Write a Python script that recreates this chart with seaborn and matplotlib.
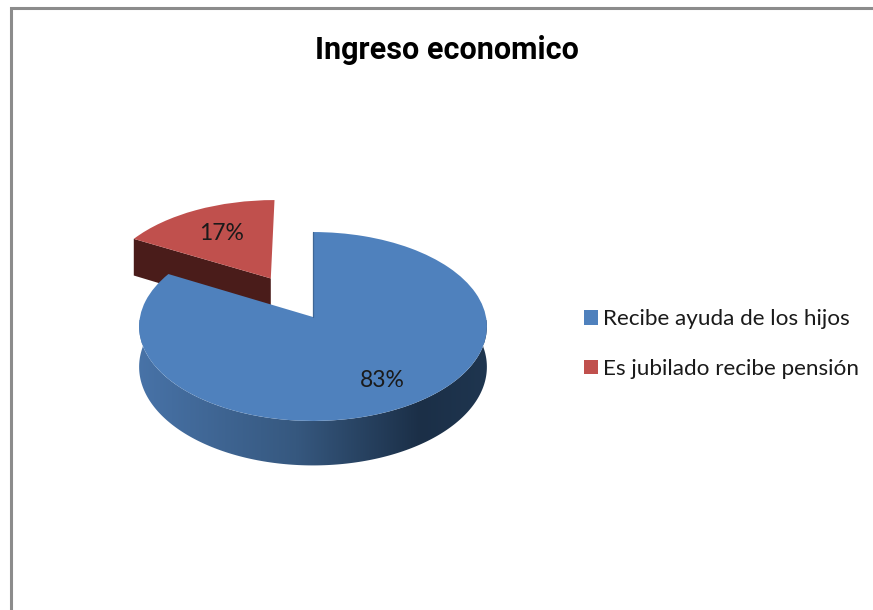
# Grafico de torta 3D: ingreso economico
import numpy as np
import matplotlib
matplotlib.use('Agg')
import matplotlib.pyplot as plt
import seaborn as sns
from matplotlib.colors import LinearSegmentedColormap
from matplotlib.patches import Polygon
from matplotlib.transforms import Transform

# --- Datos ---
categorias = ['Recibe ayuda de los hijos', 'Es jubilado recibe pensión']
valores = [83, 17]
separacion = [0, 0.5]
titulo = 'Ingreso economico'

# --- Colores ---
colores = ['#4f81bd', '#c0504d']
color_corte = '#4a1c1a'
color_borde = '#8c8c8c'

# --- Geometria de la perspectiva (pixeles) ---
CX, CY = 313, 317
RX, RY = 173, 93.5
K = 0.1005
GROSOR = 40


class Perspectiva(Transform):
    # pasa del circulo unitario de la torta a pixeles de la figura
    input_dims = 2
    output_dims = 2

    def __init__(self, z=0):
        super().__init__()
        self.z = z

    def transform_non_affine(self, values):
        xy = np.asarray(values, dtype=float)
        s = 1 / (1 + K * xy[:, 1])
        return np.column_stack([CX + RX * xy[:, 0] * s,
                                CY + (self.z * GROSOR - RY * xy[:, 1]) * s])


sns.set_theme(style='white')
plt.rcParams['font.family'] = ['Lato', 'DejaVu Sans']

fig = plt.figure(figsize=(8.73, 6.10), dpi=100)
ax = fig.add_axes([0, 0, 1, 1])

wedges, _, autotexts = ax.pie(valores, explode=separacion, colors=sns.color_palette(colores),
                              startangle=90, counterclock=False, autopct='%1.0f%%',
                              pctdistance=0.74, wedgeprops={'linewidth': 0},
                              textprops={'fontsize': 16.5, 'color': '#1a1a1a'})
ax.set_aspect('auto')

arriba = Perspectiva(0)
abajo = Perspectiva(1)
azul, rojo = wedges
centro = np.array(rojo.center)

# La etiqueta roja va mas cerca del vertice
autotexts[1].set_position(centro + (np.array(autotexts[1].get_position()) - centro) * 0.86)

# Cara superior de cada porcion
for w, t in zip(wedges, autotexts):
    w.set_transform(arriba + ax.transData)
    w.set_zorder(5)
    t.set_transform(arriba + ax.transData)
    t.set_zorder(6)

# Lado curvo de la porcion azul, con degradado
th = np.radians(np.linspace(-186, 6, 200))
arco = np.column_stack([np.cos(th), np.sin(th)])
lado = np.vstack([arriba.transform(arco), abajo.transform(arco)[::-1]])
clip = Polygon(lado, transform=ax.transData)
cmap = LinearSegmentedColormap.from_list('lado', [(0, '#4873a8'), (0.45, '#36587f'),
                                                  (0.8, '#1b2f47'), (1, '#1f3650')])
im = ax.imshow(np.linspace(0, 1, 256)[None, :], extent=(136, 492, 470, 320), aspect='auto',
               cmap=cmap, zorder=3)
im.set_clip_path(clip)

# Corte visible de la porcion roja
ang = np.radians(rojo.theta2)
borde = np.array([centro, centro + [np.cos(ang), np.sin(ang)]])
ax.add_patch(Polygon(np.vstack([arriba.transform(borde), abajo.transform(borde)[::-1]]),
                     facecolor=color_corte, edgecolor='none', zorder=2))

# Filo oscuro del corte azul a las 12
filo = arriba.transform(np.array([[0, 0], [0, 1]]))
ax.plot(filo[:, 0] - 0.5, filo[:, 1], color='#3f6796', lw=0.9, zorder=6)

# Marco de la imagen
ax.plot([10.5, 10.5, 873], [610, 7.5, 7.5], color=color_borde, lw=2.2, zorder=1,
        solid_joinstyle='miter')

ax.set_xlim(0, 873)
ax.set_ylim(610, 0)
ax.axis('off')

ax.set_title(titulo, x=447 / 873, y=1 - 59 / 610, pad=0, fontsize=22, fontweight='bold',
             fontfamily='Roboto', color='black')

leg = ax.legend(wedges, categorias, loc='center left', bbox_to_anchor=(584 / 873, 1 - 344 / 610),
                frameon=False, fontsize=16.2, handlelength=0.6, handleheight=0.6,
                handletextpad=0.26, labelspacing=1.3, borderpad=0, borderaxespad=0,
                labelcolor='#1a1a1a')

plt.savefig('out.png', dpi=100)
plt.close()
